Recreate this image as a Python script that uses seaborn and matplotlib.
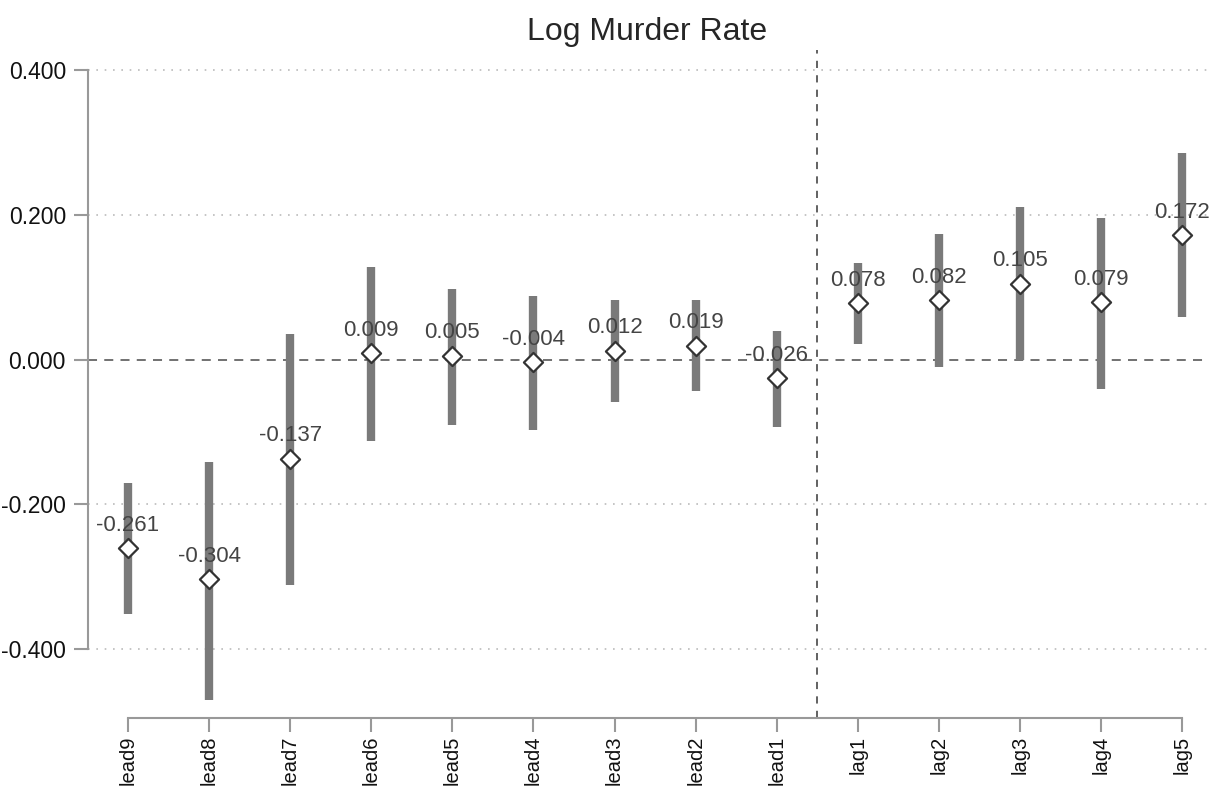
import matplotlib
matplotlib.use("Agg")
import matplotlib.pyplot as plt
import seaborn as sns
import numpy as np
import pandas as pd

terms = ["lead9", "lead8", "lead7", "lead6", "lead5", "lead4", "lead3", "lead2", "lead1",
         "lag1", "lag2", "lag3", "lag4", "lag5"]
coef = [-0.261, -0.304, -0.137, 0.009, 0.005, -0.004, 0.012, 0.019, -0.026,
        0.078, 0.082, 0.105, 0.079, 0.172]
ci_low = [-0.352, -0.470, -0.312, -0.113, -0.091, -0.098, -0.059, -0.044, -0.093,
          0.021, -0.010, 0.000, -0.040, 0.059]
ci_high = [-0.171, -0.141, 0.036, 0.128, 0.098, 0.088, 0.082, 0.082, 0.040,
           0.134, 0.173, 0.211, 0.196, 0.286]
yticks = [-0.4, -0.2, 0.0, 0.2, 0.4]
ytick_labels = ["-0.400", "-0.200", "0.000", "0.200", "0.400"]

df = pd.DataFrame({"term": terms, "coef": coef, "lo": ci_low, "hi": ci_high})
df["pos"] = np.arange(len(df))

sns.set_style("white")
plt.rcParams["font.family"] = ["Liberation Sans", "DejaVu Sans"]
plt.rcParams["axes.unicode_minus"] = False

fig = plt.figure(figsize=(12.25, 7.93), dpi=100)
ax = fig.add_axes([0.072, 0.095, 0.913, 0.842])

# gridlines
for yv in yticks:
    if yv != 0:
        ax.axhline(yv, color="#bbbbbb", linestyle=(0, (1, 4)), linewidth=1.2, zorder=0)
ax.axhline(0, color="#666666", linestyle=(0, (5, 4)), linewidth=1.3, zorder=1)
ax.axvline(8.5, color="#555555", linestyle=(0, (4, 4)), linewidth=1.3, zorder=1)

ax.vlines(df["pos"], df["lo"], df["hi"], color="#7a7a7a", linewidth=6, zorder=2)
sns.scatterplot(data=df, x="pos", y="coef", marker="D", s=95, color="white",
                edgecolor="#333333", linewidth=1.6, zorder=3, ax=ax, legend=False)

for _, r in df.iterrows():
    ax.annotate(f"{r['coef']:.3f}", (r["pos"], r["coef"]), xytext=(0, 9),
                textcoords="offset points", ha="center", va="bottom",
                fontsize=16, color="#444444", zorder=4)

ax.set_xlim(-0.49, 13.3)
ax.set_ylim(-0.495, 0.428)
ax.set_xticks(df["pos"])
ax.set_xticklabels(terms, rotation=90, fontsize=14.5)
ax.set_yticks(yticks)
ax.set_yticklabels(ytick_labels, fontsize=16.5)
ax.set_xlabel("")
ax.set_ylabel("")
ax.set_title("Log Murder Rate", fontsize=23, pad=7)

for s in ["top", "right"]:
    ax.spines[s].set_visible(False)
for s in ["left", "bottom"]:
    ax.spines[s].set_color("#999999")
    ax.spines[s].set_linewidth(1.5)
ax.spines["left"].set_bounds(-0.4, 0.4)
ax.spines["bottom"].set_bounds(0, 13)
ax.tick_params(axis="both", direction="out", length=10, width=1.5, color="#999999",
               labelcolor="#111111", left=True, bottom=True, pad=6)
ax.tick_params(axis="x", pad=3)

fig.savefig("out.png", dpi=100)
